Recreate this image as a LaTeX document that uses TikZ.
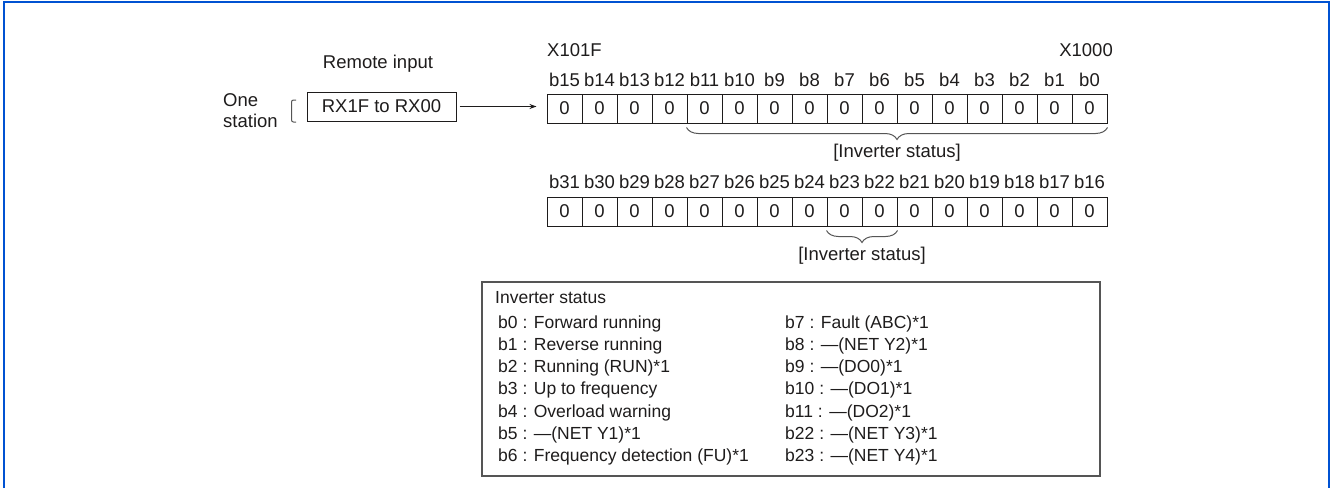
\documentclass[tikz,border=0pt]{standalone}
\usepackage{fontspec}
\setmainfont{Liberation Sans}
\usetikzlibrary{decorations.pathreplacing,arrows.meta}
\definecolor{frameblue}{RGB}{0,82,210}
\definecolor{ink}{RGB}{30,28,28}
\definecolor{boxgray}{RGB}{85,85,85}
\begin{document}
\begin{tikzpicture}[x=1pt,y=-1pt,
  txt/.style={font=\fontsize{18.5}{22}\selectfont, text=ink, inner sep=0pt},
  boxtxt/.style={font=\fontsize{17.5}{21}\selectfont, text=ink, inner sep=0pt, anchor=base west},
  cell/.style={draw=ink, line width=1pt, minimum width=35pt, minimum height=29pt, inner sep=0pt, font=\fontsize{18.5}{22}\selectfont, text=ink},
  bitlbl/.style={txt, anchor=base},
  bracegray/.style={draw=boxgray, line width=1pt, decorate, decoration={brace, mirror, amplitude=12pt}},
  ]
\useasboundingbox (0,0) rectangle (1332,488);
\draw[frameblue, line width=2pt] (3.8,488) -- (3.8,1.8) -- (1328.5,1.8) -- (1328.5,488);

% registers
\foreach \i in {0,...,15}{
  \pgfmathtruncatemacro{\bit}{15-\i}
  \pgfmathtruncatemacro{\bbit}{31-\i}
  \node[cell] (t\bit) at ({564.5+35*\i},108.5) {0};
  \node[bitlbl] (lt\bit) at ({564.5+35*\i},86) {b\bit};
  \node[cell] (u\bbit) at ({564.5+35*\i},211.5) {0};
  \node[bitlbl] (lu\bbit) at ({564.5+35*\i},188) {b\bbit};
}
\node[txt, anchor=base west] (xhi) at (547,56) {X101F};
\node[txt, anchor=base east] (xlo) at (1113,56) {X1000};

% braces
\draw[bracegray] ([yshift=-4pt]t11.south west) -- ([yshift=-4pt]t0.south east);
\node[txt, anchor=base] (st1) at (897,157) {[Inverter status]};
\draw[bracegray] ([yshift=-4pt]u23.south west) -- ([yshift=-4pt]u22.south east);
\node[txt, anchor=base] (st2) at (862,260) {[Inverter status]};

% left part
\node[txt, anchor=base] (remote) at (378,68) {Remote input};
\node[draw=ink, line width=1pt, minimum width=149pt, minimum height=29pt, txt] (rx) at (381.5,106.5) {RX1F to RX00};
\node[txt, anchor=base west] (one) at (223,106) {One};
\node[txt, anchor=base west] (station) at (223,127) {station};
\draw[boxgray, line width=1pt, rounded corners=2pt] (296,100) -- (291.5,100) -- (291.5,122) -- (296,122);
\draw[ink, line width=1pt, -{Stealth[length=7pt,width=5pt]}, shorten <=3pt, shorten >=10pt] (rx.east) -- (rx.east -| t15.west);

% status box
\node[draw=boxgray, line width=1.8pt, minimum width=618pt, minimum height=194pt, inner sep=0pt] (statbox) at (791,379) {};
\node[boxtxt] (hdr) at (495,303) {Inverter status};
\foreach [count=\k from 0] \t in {{b0 : Forward running},{b1 : Reverse running},{b2 : Running (RUN)*1},{b3 : Up to frequency},{b4 : Overload warning},{b5 : —(NET Y1)*1},{b6 : Frequency detection (FU)*1}}{
  \node[boxtxt] (l\k) at (498,{328+22.3*\k}) {\t};
}
\foreach [count=\k from 0] \t in {{b7 : Fault (ABC)*1},{b8 : —(NET Y2)*1},{b9 : —(DO0)*1},{b10 : —(DO1)*1},{b11 : —(DO2)*1},{b22 : —(NET Y3)*1},{b23 : —(NET Y4)*1}}{
  \node[boxtxt] (r\k) at (785,{328+22.3*\k}) {\t};
}
\end{tikzpicture}
\end{document}
